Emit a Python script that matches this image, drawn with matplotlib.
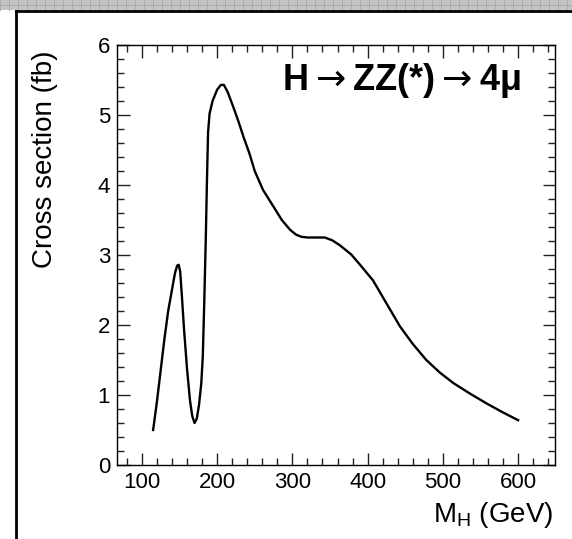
import matplotlib
matplotlib.use('Agg')
import matplotlib.pyplot as plt
from matplotlib.patches import Rectangle
from matplotlib.lines import Line2D
from matplotlib.ticker import MultipleLocator

plt.rcParams['font.family'] = ['Liberation Sans', 'DejaVu Sans']
# long thin arrows like the original, bold letters from Liberation
plt.rcParams['mathtext.fontset'] = 'custom'
plt.rcParams['mathtext.rm'] = 'DejaVu Sans'
plt.rcParams['mathtext.bf'] = 'Liberation Sans:bold'

# H -> ZZ(*) -> 4mu cross section vs Higgs mass
mass = [115, 120, 125, 130, 135, 140, 144, 147, 149, 151, 153, 156, 160, 164, 167,
        170, 173, 176, 179, 181, 183, 185, 186.5, 188, 190, 194, 200, 205, 209, 214,
        221, 228, 235, 243, 250, 261, 275, 286, 297, 305, 312, 320, 330, 343, 353,
        363, 378, 390, 407, 425, 443, 460, 478, 496, 514, 536, 558, 580, 600]
xsec = [0.50, 0.90, 1.35, 1.80, 2.20, 2.50, 2.74, 2.85, 2.86, 2.76, 2.45, 1.95, 1.38, 0.92, 0.70,
        0.60, 0.66, 0.86, 1.17, 1.55, 2.35, 3.25, 4.05, 4.75, 5.02, 5.20, 5.36, 5.43, 5.43, 5.33,
        5.13, 4.92, 4.69, 4.45, 4.20, 3.93, 3.69, 3.50, 3.36, 3.29, 3.26, 3.25, 3.25, 3.25, 3.21,
        3.14, 3.01, 2.86, 2.64, 2.31, 1.98, 1.73, 1.50, 1.32, 1.17, 1.02, 0.88, 0.75, 0.64]

xlims = (67, 649)
ylims = (0, 6)

fig = plt.figure(figsize=(5.72, 5.39), dpi=100)

# slide-style frame: grey strip on top, black border line
fig.patches.append(Rectangle((0, 1 - 10 / 539), 1, 10 / 539, transform=fig.transFigure,
                             facecolor='#c4c4c4', edgecolor='none', zorder=0))
for gx in range(0, 572, 9):
    fig.lines.append(Line2D([gx / 572, gx / 572], [1 - 10 / 539, 1], transform=fig.transFigure,
                            color='#a8a8a8', lw=0.6))
fig.lines.append(Line2D([0, 1], [1 - 5 / 539, 1 - 5 / 539], transform=fig.transFigure,
                        color='#a8a8a8', lw=0.6))
fig.lines.append(Line2D([16 / 572, 1], [1 - 10.5 / 539, 1 - 10.5 / 539],
                        transform=fig.transFigure, color='black', lw=2))
fig.lines.append(Line2D([16 / 572, 16 / 572], [0, 1 - 10.5 / 539],
                        transform=fig.transFigure, color='black', lw=2))

ax = fig.add_axes([117 / 572, 74 / 539, 438 / 572, 420 / 539])
ax.plot(mass, xsec, color='black', lw=1.7)

ax.set_xlim(*xlims)
ax.set_ylim(*ylims)
ax.xaxis.set_major_locator(MultipleLocator(100))
ax.xaxis.set_minor_locator(MultipleLocator(20))
ax.yaxis.set_major_locator(MultipleLocator(1))
ax.yaxis.set_minor_locator(MultipleLocator(0.2))
ax.tick_params(which='both', direction='in', top=True, right=True, width=1, color='#222222')
ax.tick_params(which='major', length=9, labelsize=16, pad=5)
ax.tick_params(which='minor', length=5)
for sp in ax.spines.values():
    sp.set_linewidth(1)

ax.text(0.376, 0.893, r'$\mathbf{H}{\rightarrow}\mathbf{ZZ(*)}{\rightarrow}\mathbf{4\mu}$',
        transform=ax.transAxes, fontsize=26, ha='left', va='baseline')

fig.text(45 / 572, 1 - 50 / 539, 'Cross section (fb)', rotation=90, fontsize=20,
         ha='center', va='top')
fig.text(553 / 572, 1 - 522 / 539, r'M$_\mathregular{H}$ (GeV)', fontsize=20,
         ha='right', va='baseline')

fig.savefig('out.png', dpi=100)
